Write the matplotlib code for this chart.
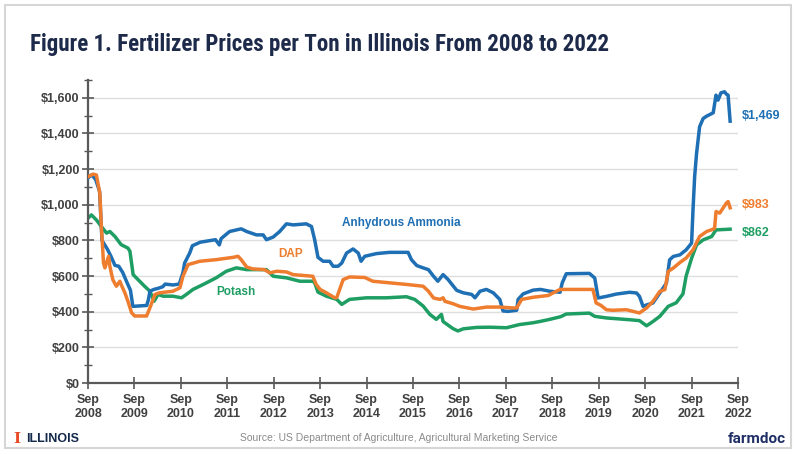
import matplotlib
matplotlib.use('Agg')
import matplotlib.pyplot as plt
from matplotlib import font_manager
from matplotlib.font_manager import FontProperties
from matplotlib.ticker import MultipleLocator, FuncFormatter
from matplotlib.patches import Rectangle
import pandas as pd

plt.rcParams['font.family'] = ['Liberation Sans', 'DejaVu Sans']


def find_condensed_bold():
    prefs = ['Liberation Sans Narrow', 'Roboto Condensed', 'Open Sans Condensed', 'Arial Narrow']
    entries = font_manager.fontManager.ttflist
    for p in prefs:
        for f in entries:
            fn = f.fname.lower()
            if f.name == p and 'bold' in fn and 'italic' not in fn:
                return f.fname
    return None


COND = find_condensed_bold()

# ---------------- data ----------------
amm_dates = ["2008-09-01", "2008-10-01", "2008-11-01", "2008-12-01", "2008-12-20", "2009-02-01",
             "2009-03-01", "2009-04-01", "2009-05-01", "2009-06-01", "2009-07-01", "2009-08-01",
             "2009-08-20", "2009-12-07", "2009-12-20", "2010-01-01", "2010-02-01", "2010-03-01",
             "2010-04-12", "2010-05-01", "2010-07-01", "2010-08-20", "2010-09-18", "2010-10-01",
             "2010-11-10", "2010-12-01", "2011-02-01", "2011-06-01", "2011-07-01", "2011-07-15",
             "2011-09-20", "2011-12-20", "2012-02-01", "2012-04-18", "2012-06-10", "2012-07-06",
             "2012-08-28", "2012-10-18", "2012-12-10", "2013-02-01", "2013-05-15", "2013-06-25",
             "2013-07-20", "2013-08-15", "2013-09-25", "2013-11-15", "2013-12-12", "2014-01-20",
             "2014-02-18", "2014-03-28", "2014-05-18", "2014-06-28", "2014-07-20", "2014-08-18",
             "2014-11-18", "2015-03-01", "2015-07-25", "2015-08-20", "2015-10-01", "2015-11-20",
             "2016-01-01", "2016-02-10", "2016-03-15", "2016-04-25", "2016-06-03", "2016-08-10",
             "2016-10-01", "2016-12-06", "2017-01-01", "2017-02-10", "2017-04-01", "2017-05-25",
             "2017-07-15", "2017-08-10", "2017-09-18", "2017-11-25", "2017-12-06", "2018-01-15",
             "2018-04-03", "2018-06-01", "2018-08-12", "2018-11-01", "2018-11-18", "2018-12-20",
             "2019-06-20", "2019-08-01", "2019-08-28", "2019-11-01", "2020-01-18", "2020-05-01",
             "2020-06-25", "2020-07-18", "2020-08-15", "2020-09-12", "2020-11-01", "2020-12-25",
             "2021-02-15", "2021-03-12", "2021-04-10", "2021-06-01", "2021-07-20", "2021-09-01",
             "2021-09-12", "2021-09-25", "2021-10-10", "2021-11-03", "2021-12-01", "2021-12-28",
             "2022-02-18", "2022-03-12", "2022-03-28", "2022-04-20", "2022-05-18", "2022-06-01",
             "2022-06-15", "2022-07-01"]
amm_prices = [1150, 1168, 1140, 1075, 800, 750,
              710, 660, 655, 620, 570, 520,
              430, 435, 467, 515, 525, 530,
              540, 555, 550, 555, 620, 673,
              729, 770, 790, 804, 775, 810,
              850, 865, 850, 831, 831, 804,
              819, 850, 893, 887, 893, 878,
              804, 705, 683, 683, 655, 655,
              673, 729, 752, 729, 683, 711,
              726, 733, 733, 692, 659, 646,
              636, 599, 571, 608, 581, 520,
              506, 497, 478, 515, 525, 506,
              469, 404, 402, 408, 469, 500,
              521, 525, 515, 509, 561, 613,
              615, 589, 477, 486, 499, 509,
              505, 486, 430, 438, 449, 505,
              561, 691, 710, 719, 747, 785,
              971, 1158, 1288, 1438, 1484, 1497,
              1516, 1615, 1587, 1628, 1634, 1621,
              1615, 1469]

dap_dates = ["2008-09-01", "2008-10-12", "2008-11-06", "2008-12-03", "2008-12-15", "2009-01-01",
             "2009-01-12", "2009-02-10", "2009-02-20", "2009-03-15", "2009-04-12", "2009-05-10",
             "2009-05-20", "2009-06-18", "2009-07-12", "2009-08-10", "2009-09-03", "2009-12-06",
             "2010-01-01", "2010-02-10", "2010-03-18", "2010-07-01", "2010-08-25", "2010-09-18",
             "2010-10-28", "2011-01-28", "2011-06-06", "2011-10-18", "2011-11-25", "2011-12-20",
             "2012-02-01", "2012-03-20", "2012-06-20", "2012-08-01", "2012-09-25", "2012-12-10",
             "2013-02-01", "2013-07-05", "2013-08-01", "2013-09-01", "2013-10-20", "2013-12-25",
             "2014-01-10", "2014-03-01", "2014-04-20", "2014-08-18", "2014-10-20", "2015-03-01",
             "2015-07-12", "2015-11-20", "2016-01-01", "2016-02-10", "2016-04-01", "2016-04-25",
             "2016-05-10", "2016-07-12", "2016-09-03", "2016-12-18", "2017-04-01", "2017-07-15",
             "2017-10-28", "2017-11-25", "2018-01-03", "2018-04-03", "2018-06-01", "2018-08-01",
             "2018-09-06", "2018-11-01", "2019-07-18", "2019-08-12", "2019-09-20", "2019-11-01",
             "2019-12-20", "2020-04-06", "2020-07-18", "2020-09-12", "2020-11-01", "2020-12-25",
             "2021-02-03", "2021-03-01", "2021-04-10", "2021-06-01", "2021-07-20", "2021-09-12",
             "2021-11-03", "2021-12-28", "2022-02-18", "2022-03-01", "2022-03-12", "2022-04-10",
             "2022-05-06", "2022-06-01", "2022-06-15", "2022-07-01"]
dap_prices = [1157, 1172, 1167, 1064, 878, 673,
              646, 711, 655, 580, 543, 571,
              552, 506, 459, 394, 376, 376,
              422, 497, 506, 515, 534, 599,
              664, 683, 692, 705, 711, 692,
              651, 640, 636, 618, 627, 623,
              608, 599, 553, 525, 506, 478,
              480, 580, 595, 592, 571, 562,
              553, 543, 515, 477, 469, 478,
              458, 445, 430, 415, 426, 426,
              421, 421, 469, 481, 486, 491,
              505, 525, 525, 449, 435, 411,
              408, 411, 393, 421, 458, 514,
              524, 626, 645, 676, 701, 747,
              822, 850, 863, 869, 962, 953,
              981, 1009, 1018, 983]

potash_dates = ["2008-09-01", "2008-09-28", "2008-11-06", "2008-12-15", "2009-01-25", "2009-02-20",
                "2009-04-01", "2009-05-20", "2009-07-12", "2009-07-28", "2009-08-22", "2009-10-12",
                "2009-11-20", "2010-01-01", "2010-02-03", "2010-03-06", "2010-04-15", "2010-07-01",
                "2010-09-06", "2010-10-15", "2010-12-06", "2011-02-25", "2011-06-06", "2011-08-25",
                "2011-11-12", "2012-02-01", "2012-07-06", "2012-08-28", "2012-12-10", "2013-03-25",
                "2013-07-05", "2013-07-20", "2013-08-15", "2013-10-20", "2014-01-10", "2014-02-18",
                "2014-04-20", "2014-09-01", "2015-02-06", "2015-07-12", "2015-09-15", "2015-11-20",
                "2016-01-12", "2016-03-03", "2016-04-12", "2016-04-25", "2016-07-12", "2016-08-20",
                "2016-10-01", "2017-01-15", "2017-04-28", "2017-09-06", "2017-12-18", "2018-04-03",
                "2018-06-01", "2018-08-12", "2018-11-06", "2018-12-20", "2019-06-20", "2019-08-01",
                "2019-11-01", "2020-05-01", "2020-07-18", "2020-09-12", "2020-11-01", "2020-12-25",
                "2021-03-01", "2021-05-03", "2021-06-25", "2021-07-20", "2021-09-01", "2021-10-10",
                "2021-12-01", "2022-02-06", "2022-03-12", "2022-07-01"]
potash_prices = [925, 943, 915, 878, 841, 850,
                 822, 776, 757, 739, 608, 571,
                 543, 515, 459, 497, 487, 487,
                 478, 497, 525, 553, 590, 627,
                 646, 636, 636, 599, 590, 571,
                 571, 562, 510, 487, 469, 441,
                 469, 478, 478, 484, 469, 432,
                 385, 357, 385, 345, 305, 292,
                 304, 312, 313, 310, 328, 338,
                 346, 357, 372, 387, 392, 374,
                 365, 355, 350, 321, 345, 374,
                 430, 450, 500, 600, 700, 775,
                 803, 822, 859, 863]

series_names = ["Anhydrous Ammonia", "DAP", "Potash"]
end_labels = ["$1,469", "$983", "$862"]
years = list(range(2008, 2023))
x_tick_labels = [f"Sep\n{y}" for y in years]
y_ticks = list(range(0, 1601, 200))

# ---------------- styling ----------------
BLUE = "#1f6fb4"
ORANGE = "#ee7d2f"
GREEN = "#1e9e63"
AXC = "#595959"
TXT = "#404040"
NAVY = "#1d2a4a"

fig = plt.figure(figsize=(8, 4.55), dpi=100)
fig.patch.set_facecolor('white')

# frame border
fig.patches.append(Rectangle((5/800, 1-448/455), (791-5)/800, (448-5)/455,
                             transform=fig.transFigure, fill=False,
                             edgecolor="#d6d6d6", linewidth=1.5))

ax = fig.add_axes([88/800, 1-383/455, (738-88)/800, (383-80)/455])

to_dt = lambda d: pd.to_datetime(d)
ax.plot(to_dt(amm_dates), amm_prices, color=BLUE, lw=2.5, solid_joinstyle='round', zorder=3)
ax.plot(to_dt(dap_dates), dap_prices, color=ORANGE, lw=2.5, solid_joinstyle='round', zorder=4)
ax.plot(to_dt(potash_dates), potash_prices, color=GREEN, lw=2.5, solid_joinstyle='round', zorder=2)

ax.set_xlim(pd.Timestamp("2008-09-01"), pd.Timestamp("2022-09-01"))
ax.set_ylim(0, 1700)

xt = [pd.Timestamp(f"{y}-09-01") for y in years]
ax.set_xticks(xt)
ax.set_xticklabels(x_tick_labels, fontsize=9, fontweight='bold', color=TXT, linespacing=1.25)
ax.set_yticks(y_ticks)
ax.yaxis.set_minor_locator(MultipleLocator(100))
ax.yaxis.set_major_formatter(FuncFormatter(lambda v, p: f"${int(v):,}"))
for lab in ax.get_yticklabels():
    lab.set_fontweight('bold'); lab.set_color(TXT); lab.set_fontsize(9)

ax.tick_params(axis='x', which='major', direction='inout', length=8, width=1.2, color=AXC, pad=4)
ax.tick_params(axis='y', which='major', direction='inout', length=8, width=1.2, color=AXC, pad=2)
ax.tick_params(axis='y', which='minor', direction='inout', length=6, width=1.0, color=AXC)

ax.grid(axis='y', which='major', color="#dedede", lw=1.0, zorder=0)
ax.set_axisbelow(True)
for s in ['top', 'right']:
    ax.spines[s].set_visible(False)
for s in ['left', 'bottom']:
    ax.spines[s].set_color(AXC)
    ax.spines[s].set_linewidth(1.6)

# series labels
ax.text(pd.Timestamp("2015-06-05"), 900, series_names[0], color=BLUE, fontsize=8.5,
        fontweight='bold', ha='center', va='center')
ax.text(pd.Timestamp("2013-01-15"), 725, series_names[1], color=ORANGE, fontsize=8.5,
        fontweight='bold', ha='center', va='center')
ax.text(pd.Timestamp("2011-11-10"), 510, series_names[2], color=GREEN, fontsize=8.5,
        fontweight='bold', ha='center', va='center')

# end labels
fig.text(742/800, 1-116/455, end_labels[0], color=BLUE, fontsize=9, fontweight='bold', va='center')
fig.text(742/800, 1-205/455, end_labels[1], color=ORANGE, fontsize=9, fontweight='bold', va='center')
fig.text(742/800, 1-233/455, end_labels[2], color=GREEN, fontsize=9, fontweight='bold', va='center')

# title (fit to the reference width)
title_str = "Figure 1. Fertilizer Prices per Ton in Illinois From 2008 to 2022"
if COND:
    tprops = FontProperties(fname=COND, size=13)
else:
    tprops = FontProperties(family='Liberation Sans', weight='bold', size=13)
target_w = 576
title = fig.text(30/800, 1-45/455, title_str, color=NAVY, fontproperties=tprops,
                 va='center', ha='left')
fig.canvas.draw()
w = title.get_window_extent(fig.canvas.get_renderer()).width
title.set_fontsize(13 * target_w / w)

# footer
fig.text(13/800, 1-439/455, "I", color="#e84a27", fontsize=11, fontweight='bold',
         family='DejaVu Serif', va='center', ha='left')
fig.text(26/800, 1-439/455, "ILLINOIS", color="#13294b", fontsize=9, fontweight='bold',
         va='center', ha='left')
fig.text(399/800, 1-438/455, "Source: US Department of Agriculture, Agricultural Marketing Service",
         color="#8a8a8a", fontsize=7.5, va='center', ha='center')
fig.text(786/800, 1-439/455, "farmdoc", color="#1f2f66", fontsize=11, fontweight='bold',
         va='center', ha='right', family=['Roboto', 'DejaVu Sans'])

fig.savefig("out.png", dpi=100, facecolor='white')
